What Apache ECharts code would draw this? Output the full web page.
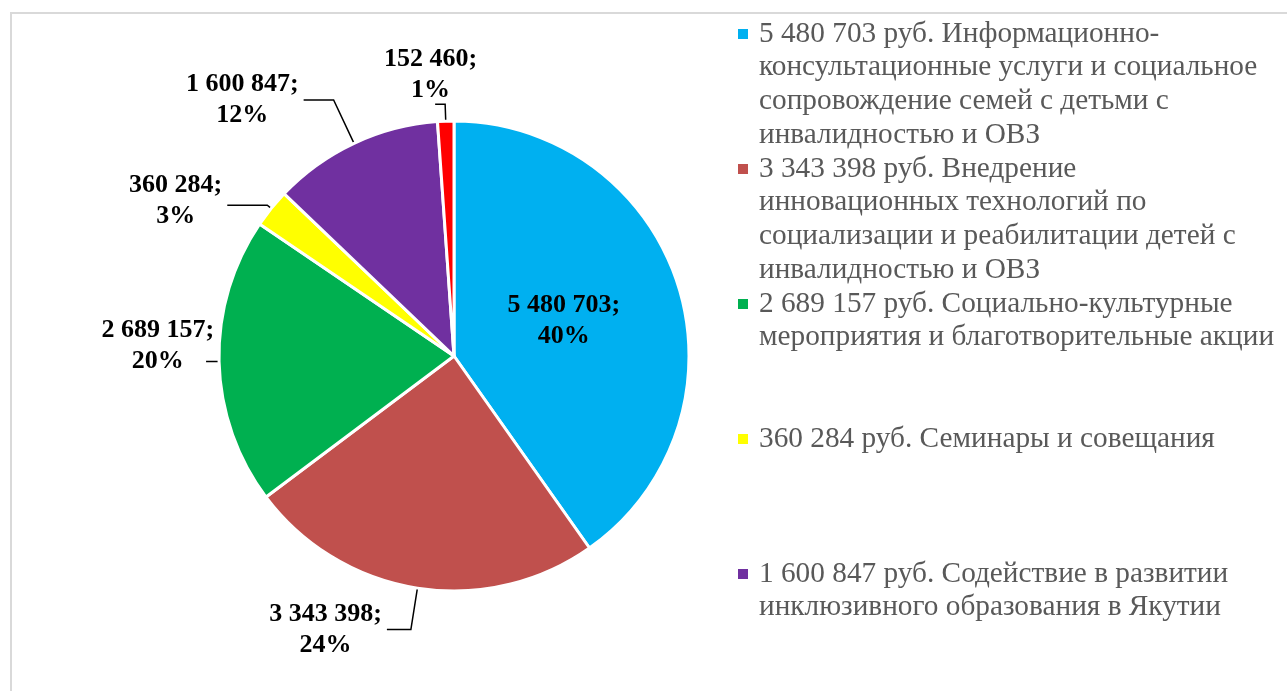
<!DOCTYPE html>
<html><head><meta charset="utf-8">
<script src="https://cdn.jsdelivr.net/npm/echarts@6/dist/echarts.min.js"></script>
<style>html,body{margin:0;padding:0;background:#fff;} #c{width:1287px;height:691px;}</style>
</head><body><div id="c"></div>
<script>
// Categories (legend text, with the line breaks seen in the reference)
const categories = [
  'Информационно-\nконсультационные услуги и социальное\nсопровождение семей с детьми с\nинвалидностью и ОВЗ',
  'Внедрение\nинновационных технологий по\nсоциализации и реабилитации детей с\nинвалидностью и ОВЗ',
  'Социально-культурные\nмероприятия и благотворительные акции',
  'Семинары и совещания',
  'Содействие в развитии\nинклюзивного образования в Якутии',
  'Прочее'
];
const values = [5480703, 3343398, 2689157, 360284, 1600847, 152460];
const colors = ['#00B0F0', '#C0504D', '#00B050', '#FFFF00', '#7030A0', '#FF0000'];

const FONT = "'Liberation Serif', 'Times New Roman', serif";
function fmt(v) { return String(v).replace(/\B(?=(\d{3})+(?!\d))/g, ' '); }

// label style tweaks (not data)
const labelCfg = [
  { position: 'inside' },
  { position: 'outside', length: 42, length2: 24 },
  { position: 'outside', length: 1, length2: 12 },
  { position: 'outside', length: 5, length2: 40 },
  { position: 'outside', length: 48, length2: 30 },
  { position: 'outside', length: 17, length2: 10 }
];
const labelShift = [
  { dx: -5, dy: 1 }, { dx: 0, dy: 0 }, { dx: 13, dy: -16 },
  { dx: 0, dy: -4 }, { dx: 0, dy: 0 }, { dx: 47, dy: -29 }
];
const legendFirstLineY = [34, 169, 304, 439, 574];
const LH = 33.75;
const ICON = 10;

const data = values.map((v, i) => ({
  name: categories[i],
  value: v,
  itemStyle: { color: colors[i] },
  label: { position: labelCfg[i].position },
  labelLine: labelCfg[i].position === 'outside'
    ? { show: true, length: labelCfg[i].length, length2: labelCfg[i].length2 }
    : { show: false }
}));

const legends = legendFirstLineY.map((y, i) => {
  const n = categories[i].split('\n').length;
  const h = n * LH;
  const c = LH / 2;
  // square at the first text line; tiny invisible anchors stretch the box to the full text height
  const icon = 'path://M0,' + (c - ICON / 2) + 'H' + ICON + 'V' + (c + ICON / 2) + 'H0Z' +
    'M0,0L0.01,0L0,0.01Z' + 'M0,' + h + 'L0.01,' + h + 'L0,' + (h - 0.01) + 'Z';
  return {
    show: true,
    data: [categories[i]],
    left: 738,
    top: y - c,
    padding: 0,
    itemWidth: ICON,
    itemHeight: h,
    icon: icon,
    itemStyle: { borderWidth: 0 },
    selectedMode: false,
    formatter: name => fmt(values[categories.indexOf(name)]) + ' руб. ' + name,
    textStyle: {
      fontFamily: FONT, fontSize: 29.3, color: '#595959',
      lineHeight: LH, padding: [0, 0, 0, 6]
    }
  };
});

const chart = echarts.init(document.getElementById('c'), null, { renderer: 'canvas' });
chart.setOption({
  animation: false,
  backgroundColor: '#fff',
  graphic: [{
    type: 'rect', silent: true,
    shape: { x: 11, y: 13, width: 1400, height: 900 },
    style: { fill: 'none', stroke: '#d9d9d9', lineWidth: 2 }
  }],
  legend: legends,
  series: [{
    type: 'pie',
    center: [454, 356],
    radius: 235,
    startAngle: 90,
    clockwise: true,
    avoidLabelOverlap: false,
    percentPrecision: 0,
    itemStyle: { borderColor: '#fff', borderWidth: 3 },
    label: {
      show: true,
      formatter: p => '{a|' + fmt(p.value) + ';}\n{a|' + p.percent + '%}',
      distanceToLabelLine: 5,
      rich: {
        a: { fontFamily: FONT, fontSize: 26, fontWeight: 'bold', color: '#000', lineHeight: 31, align: 'center' }
      }
    },
    labelLine: { lineStyle: { color: '#000', width: 1.5 } },
    labelLayout: p => labelShift[p.dataIndex],
    emphasis: { disabled: true },
    data: data
  }]
});
</script></body></html>
